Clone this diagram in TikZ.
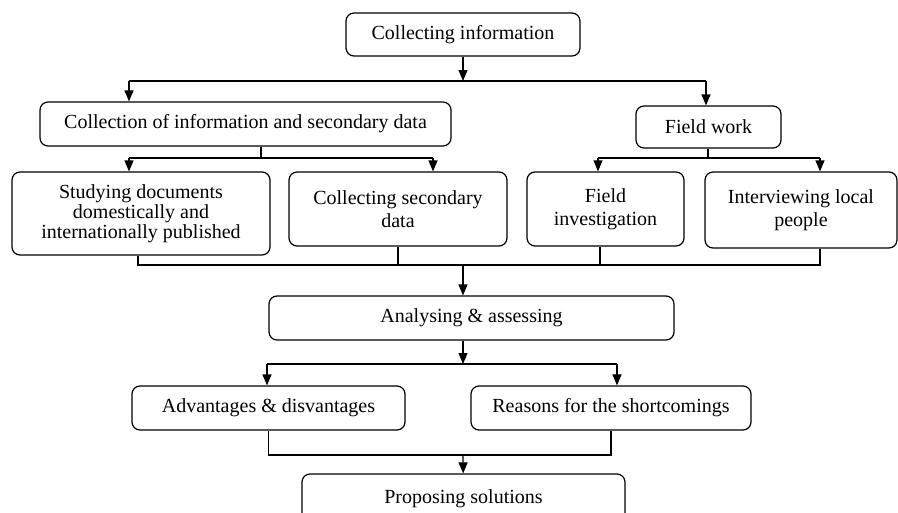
\documentclass[tikz,border=0pt]{standalone}
\usepackage{fontspec}
\setmainfont{Liberation Serif}
\usetikzlibrary{arrows.meta}

\begin{document}
\begin{tikzpicture}[x=1pt, y=1pt,
        box/.style = {draw, rounded corners=8pt, line width=1.2pt, align=center, inner sep=0pt,
                      font=\fontsize{20}{23}\selectfont},
        arr/.style = {-{Triangle[length=11pt, width=9pt]}}]
                \useasboundingbox (0,0) rectangle (898,-512);
                \tikzset{every path/.style={line width=1.2pt}}

                \node[box, minimum width=234, minimum height=43] at (463,-34.5) (info) {Collecting information};
                \node[box, minimum width=411, minimum height=44] at (245.5,-124) (coll) {Collection of information and secondary data};
                \node[box, minimum width=145, minimum height=42] at (708.5,-127) (field) {Field work};
                \node[box, minimum width=258, minimum height=83, font=\fontsize{20}{20}\selectfont] at (141,-213.5) (study) {Studying documents\\ domestically and\\ internationally published};
                \node[box, minimum width=218, minimum height=74] at (398,-209) (sec) {Collecting secondary\\ data};
                \node[box, minimum width=157, minimum height=74] at (605.5,-209) (fi) {Field\\ investigation};
                \node[box, minimum width=192, minimum height=76] at (801,-210) (inter) {Interviewing local\\ people};
                \node[box, minimum width=405, minimum height=44] at (471.5,-318) (ana) {Analysing \& assessing};
                \node[box, minimum width=273, minimum height=44] at (268.5,-408) (adv) {Advantages \& disvantages};
                \node[box, minimum width=280, minimum height=44] at (611,-408) (rea) {Reasons for the shortcomings};
                \node[box, minimum width=323, minimum height=50] at (463.5,-499) (sol) {Proposing solutions};

                \coordinate (j1) at (463,-81);
                \coordinate (j1l) at (129,-81);
                \coordinate (j1r) at (706,-81);
                \coordinate (j2) at (261,-158);
                \coordinate (j2l) at (129,-158);
                \coordinate (j2r) at (433,-158);
                \coordinate (j3) at (708,-158);
                \coordinate (j3l) at (598,-158);
                \coordinate (j3r) at (820,-158);
                \coordinate (m1) at (138,-265);
                \coordinate (m) at (463,-265);
                \coordinate (m3) at (600,-265);
                \coordinate (m4) at (820,-265);
                \coordinate (a) at (463,-364);
                \coordinate (al) at (267,-364);
                \coordinate (ar) at (617,-364);
                \coordinate (bm) at (463,-455);

                \draw [arr] (info) -- (j1);
                \draw (j1l) -- (j1r);
                \draw [arr] (j1l) -- (j1l |- coll.north);
                \draw [arr] (j1r) -- (j1r |- field.north);

                \draw (j2 |- coll.south) -- (j2);
                \draw (j2l) -- (j2r);
                \draw [arr] (j2l) -- (j2l |- study.north);
                \draw [arr] (j2r) -- (j2r |- sec.north);

                \draw (j3 |- field.south) -- (j3);
                \draw (j3l) -- (j3r);
                \draw [arr] (j3l) -- (j3l |- fi.north);
                \draw [arr] (j3r) -- (j3r |- inter.north);

                \draw (m1 |- study.south) -- (m1) -- (m4) -- (m4 |- inter.south);
                \draw (sec) -- (sec |- m1);
                \draw (m3 |- fi.south) -- (m3);
                \draw [arr] (m) -- (m |- ana.north);

                \draw [arr] (m |- ana.south) -- (a);
                \draw (al) -- (ar);
                \draw [arr] (al) -- (al |- adv.north);
                \draw [arr] (ar) -- (ar |- rea.north);

                \draw (adv) -- (adv |- bm) -| (rea);
                \draw [arr] (bm) -- (sol);
                \end{tikzpicture}
\end{document}
